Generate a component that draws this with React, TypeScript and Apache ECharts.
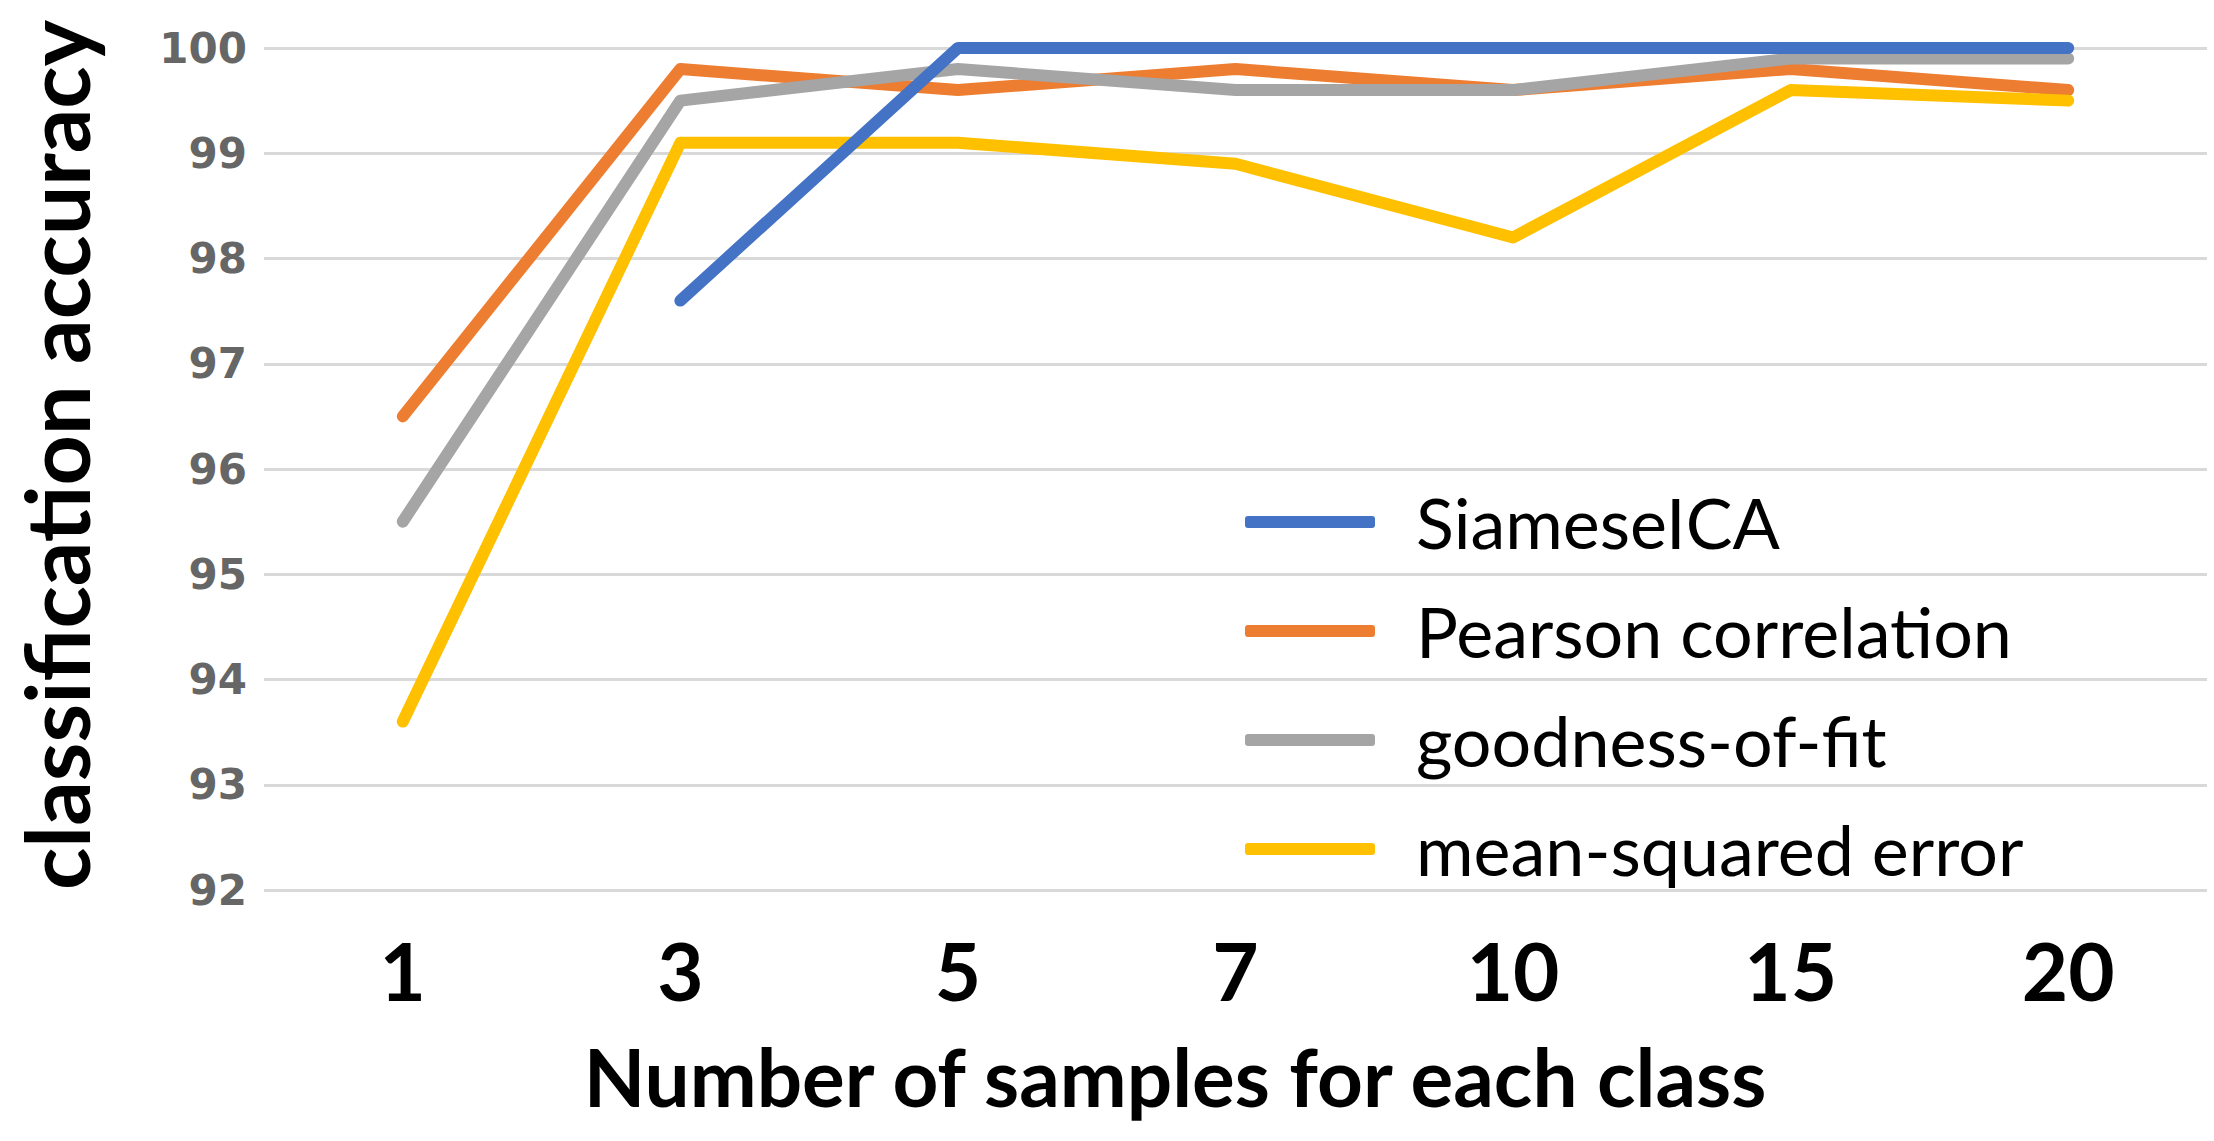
import React, { useEffect, useRef } from "react";
import * as echarts from "echarts";

const categories = ["1", "3", "5", "7", "10", "15", "20"];
const siameseICA = [null, 97.6, 100, 100, 100, 100, 100];
const pearson = [96.5, 99.8, 99.6, 99.8, 99.6, 99.8, 99.6];
const goodnessOfFit = [95.5, 99.5, 99.8, 99.6, 99.6, 99.9, 99.9];
const meanSquaredError = [93.6, 99.1, 99.1, 98.9, 98.2, 99.6, 99.5];
const seriesNames = ["SiameseICA", "Pearson correlation", "goodness-of-fit", "mean-squared error"];
const yMin = 92;
const yMax = 100;
const yInterval = 1;
const xTitle = "Number of samples for each class";
const yTitle = "classification accuracy";

const COLORS = ["#4472C4", "#ED7D31", "#A5A5A5", "#FFC000"];
const SANS = "Lato, 'Open Sans', sans-serif";

export default function App() {
  const ref = useRef<HTMLDivElement>(null);
  useEffect(() => {
    document.body.style.margin = "0";
    if (!ref.current) return;
    const chart = echarts.init(ref.current, undefined, { renderer: "svg" });
    const data = [siameseICA, pearson, goodnessOfFit, meanSquaredError];
    const zs = [5, 2, 3, 4];
    chart.setOption({
      animation: false,
      backgroundColor: "#ffffff",
      grid: { left: 264, top: 48, width: 1943, height: 842, containLabel: false },
      legend: {
        orient: "vertical",
        left: 1245,
        top: 487,
        padding: 0,
        itemWidth: 130,
        itemHeight: 12,
        itemGap: 39,
        icon: "roundRect",
        data: seriesNames,
        textStyle: {
          fontFamily: SANS,
          fontSize: 70,
          lineHeight: 70,
          color: "#000000",
          padding: [0, 0, 0, 36],
        },
      },
      xAxis: {
        type: "category",
        data: categories,
        boundaryGap: true,
        axisLine: { show: false },
        axisTick: { show: false },
        axisLabel: {
          margin: 40,
          fontFamily: SANS,
          fontWeight: "bold",
          fontSize: 80,
          color: "#000000",
        },
      },
      yAxis: {
        type: "value",
        min: yMin,
        max: yMax,
        interval: yInterval,
        axisLine: { show: false },
        axisTick: { show: false },
        splitLine: { lineStyle: { color: "#d9d9d9", width: 3 } },
        axisLabel: {
          margin: 17,
          fontFamily: "'DejaVu Sans', Verdana, sans-serif",
          fontWeight: "bold",
          fontSize: 42,
          color: "#666666",
        },
      },
      graphic: [
        {
          type: "text",
          x: 1175,
          y: 1076,
          style: {
            text: xTitle,
            fontFamily: SANS,
            fontWeight: "bold",
            fontSize: 80,
            fill: "#000000",
            textAlign: "center",
            textVerticalAlign: "middle",
          },
        },
        {
          type: "text",
          x: 56,
          y: 455,
          rotation: Math.PI / 2,
          style: {
            text: yTitle,
            fontFamily: SANS,
            fontWeight: "bold",
            fontSize: 88,
            fill: "#000000",
            textAlign: "center",
            textVerticalAlign: "middle",
          },
        },
      ],
      series: seriesNames.map((name, i) => ({
        name,
        type: "line",
        data: data[i],
        z: zs[i],
        showSymbol: false,
        symbol: "none",
        connectNulls: false,
        color: COLORS[i],
        lineStyle: { color: COLORS[i], width: 12, cap: "round", join: "round" },
        itemStyle: { color: COLORS[i] },
      })),
    });
    return () => chart.dispose();
  }, []);
  return (
    <div
      ref={ref}
      style={{ position: "absolute", left: 0, top: 0, width: 2214, height: 1141 }}
    />
  );
}
